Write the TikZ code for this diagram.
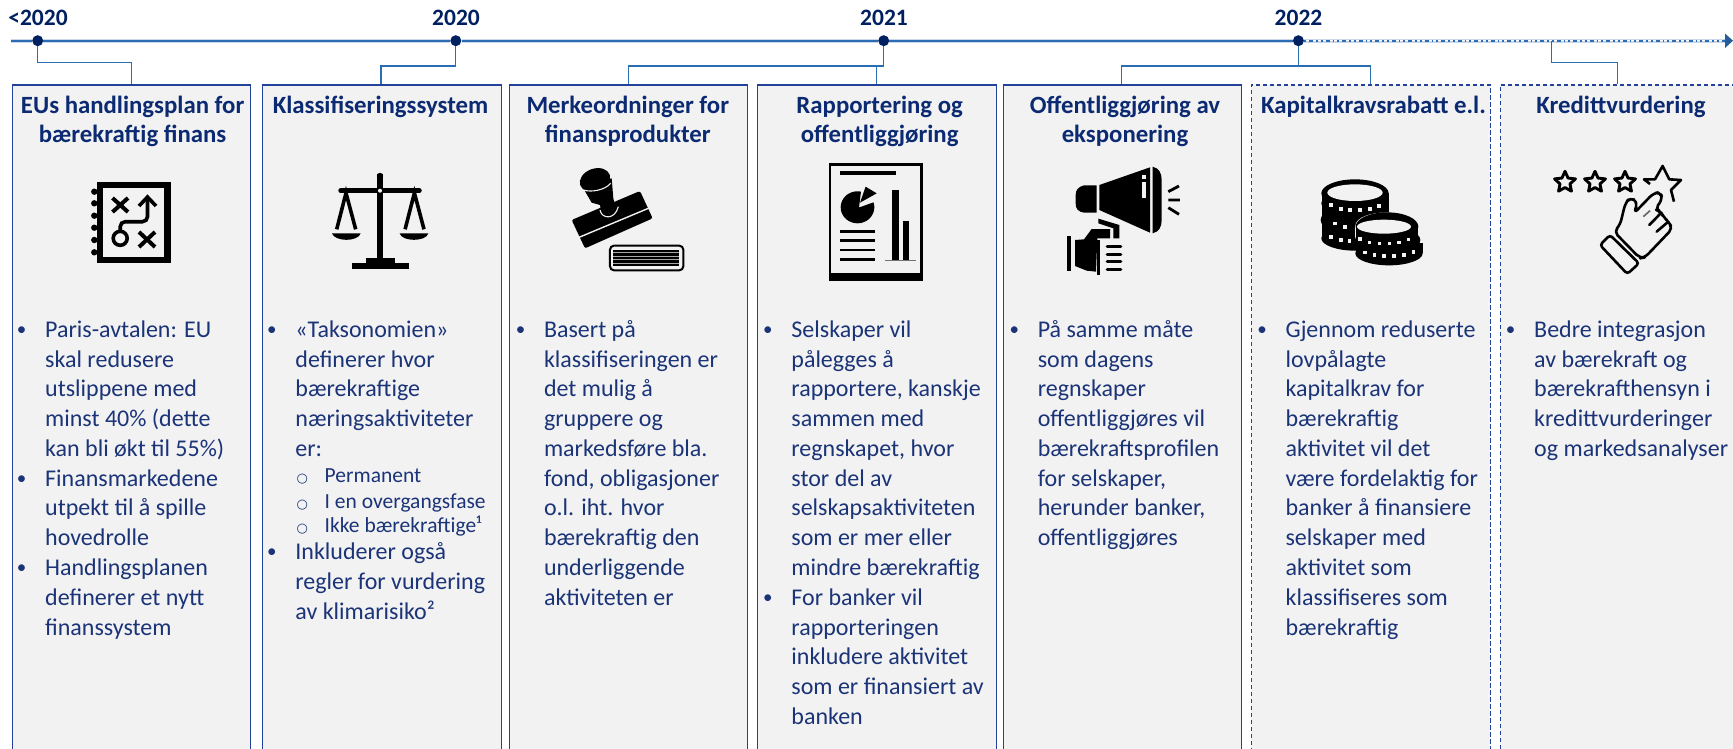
\documentclass[tikz,border=0pt]{standalone}
\usepackage{fontspec}
\setmainfont{Carlito}
\newfontfamily\symf{DejaVu Sans}
\usetikzlibrary{arrows.meta,shapes.geometric}
\definecolor{navy}{HTML}{0B2A72}
\definecolor{bodyc}{HTML}{1B3478}
\definecolor{dotc}{HTML}{002060}
\definecolor{linec}{HTML}{2A6DB5}
\definecolor{halo}{HTML}{CBD8EC}
\definecolor{edge}{HTML}{23429A}
\definecolor{panel}{HTML}{F2F2F2}
\newcommand\bodyfs{\fontsize{24}{29.77}\selectfont}
\newcommand\titlefs{\fontsize{24.8}{29}\selectfont\bfseries}
\newcommand\subfs{\fontsize{21.5}{25}\selectfont}
\newcommand\bu{\leavevmode\llap{\makebox[0pt][c]{\raisebox{2pt}{\fontsize{19}{19}\selectfont •}}\hspace{23.5pt}}}
\newcommand\su[1]{\leavevmode\hspace{29.3pt}\llap{\makebox[0pt][c]{\fontsize{13}{13}\symf ○}\hspace{22.3pt}}{\subfs #1}}
\newcommand\bodyblock[1]{\vtop{\hsize=300pt\parindent=0pt\lineskiplimit=-100pt\raggedright\bodyfs #1}}
\newcommand\titleblock[1]{\vtop{\hsize=260pt\parindent=0pt\lineskiplimit=-100pt\centering\titlefs #1}}
\tikzset{
  panelbox/.style={draw=edge,fill=panel,line width=1.3pt,rectangle,inner sep=0pt,anchor=north west,minimum height=700pt},
  planbox/.style={panelbox,dash pattern=on 4.5pt off 2.5pt},
  yeardot/.style={circle,fill=dotc,inner sep=0pt,minimum size=11pt},
  yearlabel/.style={anchor=base,inner sep=0pt,text=dotc,font=\fontsize{23.5}{28}\selectfont\bfseries},
  titletext/.style={anchor=base,inner sep=0pt,text=navy},
  bodytext/.style={anchor=base west,inner sep=0pt,text=bodyc},
  conn/.style={draw=linec,line width=1.2pt},
  inkline/.style={draw=black,line cap=butt},
  star5/.style={star,star points=5,star point ratio=2.1,draw=black,line width=2.9pt,minimum size=22pt,inner sep=0pt,line join=round}
}
\begin{document}
\begin{tikzpicture}[x=1pt,y=-1pt]
\path[clip] (0,0) rectangle (1733,748);
\fill[white] (0,0) rectangle (1733,748);

% panels
\node[panelbox,minimum width=238pt] (b1) at (11.5,84.3) {};
\node[panelbox,minimum width=239pt] (b2) at (261.6,84.3) {};
\node[panelbox,minimum width=238pt] (b3) at (509,84.3) {};
\node[panelbox,minimum width=239pt] (b4) at (756.8,84.3) {};
\node[panelbox,minimum width=238pt] (b5) at (1002.9,84.3) {};
\node[planbox,minimum width=239pt] (b6) at (1250.7,84.3) {};
\node[planbox,minimum width=300pt] (b7) at (1499.7,84.3) {};

% timeline
\node[yeardot] (d1) at (37.7,40.7) {};
\node[yeardot] (d2) at (455.8,40.7) {};
\node[yeardot] (d3) at (883.7,40.7) {};
\node[yeardot] (d4) at (1298.4,40.7) {};
\coordinate (tls) at (11,40.7);
\coordinate (tlm) at (1726,40.7);
\coordinate (tle) at (1733,40.7);
\coordinate (t5) at (1551.8,40.7);
\draw[halo,line width=3.6pt] (tls) -- (d1) -- (d2) -- (d3) -- (d4) -- (tlm);
\draw[linec,line width=1.6pt] (tls) -- (d1) -- (d2) -- (d3) -- (d4);
\draw[white,line width=1pt] (d4) -- (tlm);
\draw[linec,line width=1.6pt,dash pattern=on 2pt off 3pt on 4pt off 3pt on 1.5pt off 3pt] (d4) -- (tlm);
\draw[draw=none,fill=linec!85!black] (1725,33.5) -- (tle) -- (1725,48) -- cycle;

\node[yearlabel] (y1) at (38,25) {<2020};
\node[yearlabel] (y2) at (456,25) {2020};
\node[yearlabel] (y3) at (884,25) {2021};
\node[yearlabel] (y4) at (1298.5,25) {2022};

% connectors
\coordinate (e1) at (131.3,62.3);
\coordinate (e2) at (381,66);
\coordinate (e3a) at (628.5,66);
\coordinate (e3b) at (876.3,66);
\coordinate (e4a) at (1121.6,66);
\coordinate (e4b) at (1370.2,66);
\coordinate (e5) at (1617.7,62.3);
\draw[conn] (d1) |- (e1) -- (e1|-b1.north);
\draw[conn] (d2) |- (e2) -- (e2|-b2.north);
\draw[conn] (d3) |- (e3a) -- (e3a|-b3.north);
\draw[conn] (e3b) -- (e3b|-b4.north);
\draw[conn] (d4) |- (e4a) -- (e4a|-b5.north);
\draw[conn] (d4|-e4a) -- (e4b) -- (e4b|-b6.north);
\draw[conn] (t5) |- (e5) -- (e5|-b7.north);

% titles
\node[titletext] (t1) at (132.6,113.3) {\titleblock{EUs handlingsplan for\\bærekraftig finans}};
\node[titletext] (t2) at (380.5,113.3) {\titleblock{Klassifiseringssystem}};
\node[titletext] (t3) at (627.8,113.3) {\titleblock{Merkeordninger for\\finansprodukter}};
\node[titletext] (t4) at (879.7,113.3) {\titleblock{Rapportering og\\offentliggjøring}};
\node[titletext] (t5t) at (1125,113.3) {\titleblock{Offentliggjøring av\\eksponering}};
\node[titletext] (t6) at (1373.5,113.3) {\titleblock{Kapitalkravsrabatt e.l.}};
\node[titletext] (t7) at (1621,113.3) {\titleblock{Kredittvurdering}};

% body text
\node[bodytext] (c1) at (45,337.3) {\bodyblock{\bu Paris-avtalen: EU\\skal redusere\\utslippene med\\minst 40\% (dette\\kan bli økt til 55\%)\\\bu Finansmarkedene\\utpekt til å spille\\hovedrolle\\\bu Handlingsplanen\\definerer et nytt\\finanssystem}};
\node[bodytext] (c2) at (295.2,337.3) {\bodyblock{\bu «Taksonomien»\\definerer hvor\\bærekraftige\\næringsaktiviteter\\er:\\[-3.9pt]\su{Permanent}\\[-4pt]\su{I en overgangsfase}\\[-5.5pt]\su{Ikke bærekraftige¹}\\[-2.1pt]\bu Inkluderer også\\regler for vurdering\\av klimarisiko²}};
\node[bodytext] (c3) at (543.8,337.3) {\bodyblock{\bu Basert på\\klassifiseringen er\\det mulig å\\gruppere og\\markedsføre bla.\\fond, obligasjoner\\o.l. iht. hvor\\bærekraftig den\\underliggende\\aktiviteten er}};
\node[bodytext] (c4) at (791.2,337.3) {\bodyblock{\bu Selskaper vil\\pålegges å\\rapportere, kanskje\\sammen med\\regnskapet, hvor\\stor del av\\selskapsaktiviteten\\som er mer eller\\mindre bærekraftig\\\bu For banker vil\\rapporteringen\\inkludere aktivitet\\som er finansiert av\\banken}};
\node[bodytext] (c5) at (1037.6,337.3) {\bodyblock{\bu På samme måte\\som dagens\\regnskaper\\offentliggjøres vil\\bærekraftsprofilen\\for selskaper,\\herunder banker,\\offentliggjøres}};
\node[bodytext] (c6) at (1285.4,337.3) {\bodyblock{\bu Gjennom reduserte\\lovpålagte\\kapitalkrav for\\bærekraftig\\aktivitet vil det\\være fordelaktig for\\banker å finansiere\\selskaper med\\aktivitet som\\klassifiseres som\\bærekraftig}};
\node[bodytext] (c7) at (1534,337.3) {\bodyblock{\bu Bedre integrasjon\\av bærekraft og\\bærekrafthensyn i\\kredittvurderinger\\og markedsanalyser}};

% icon 1: notebook
\fill[black] (97,181.7) rectangle (171,262.7);
\fill[panel] (102.8,187.7) rectangle (163.9,256.7);
\foreach \yy in {191.7,203.3,215.7,227.7,240,252.3} \fill[black] (94.3,\yy) circle (3.2pt);
\draw[inkline,line width=4pt] (112.5,198) -- (128,212) (112.5,212) -- (128,198);
\draw[inkline,line width=4pt] (139,232) -- (155,247) (139,247) -- (155,232);
\draw[inkline,line width=3.6pt] (120.2,238.3) circle (7pt);
\draw[inkline,line width=3.6pt,rounded corners=5pt] (120.2,231) -- (120.2,221.7) -- (147.5,221.7) -- (147.5,199);
\draw[inkline,line width=3.6pt,line join=miter] (139,206) -- (147.5,197) -- (156,206);

% icon 2: scales
\fill[black] (376.8,174) -- (383.2,174) -- (383.2,262) -- (376.8,262) -- cycle;
\fill[black] (380,176) circle (3.2pt);
\draw[inkline,line width=5.5pt,line cap=round] (341,190.7) -- (419,190.7);
\fill[panel] (380,190.7) circle (2pt);
\fill[black] (365.5,258.3) rectangle (394.7,264);
\fill[black] (351.5,263.3) rectangle (408.8,269.3);
\draw[inkline,line width=3.6pt] (336.7,229.3) -- (346,193) -- (355.7,229.3);
\draw[inkline,line width=3.6pt] (405.1,229.3) -- (414.4,193) -- (424,229.3);
\fill[black] (331.9,233.3) -- (360.7,233.3) .. controls (358,242) and (335,242) .. cycle;
\fill[black] (399.6,233.3) -- (428.4,233.3) .. controls (426,242) and (402,242) .. cycle;

% icon 3: stamp
\begin{scope}[shift={(550,160)},x=0.3333pt,y=-0.3333pt]
\fill[black,rounded corners=2pt] (65,180) -- (270,93) -- (308,175) -- (105,265) -- cycle;
\fill[black] (97,80) -- (125,128) -- (150,135) -- (155,165) .. controls (165,178) and (190,178) .. (200,160) -- (190,115) -- (185,55) -- cycle;
\fill[black,rotate around={20:(135,60)}] (135,60) ellipse (47 and 34);
\draw[panel,line width=1.1pt] (100,90) .. controls (125,98) and (165,90) .. (182,70);
\draw[panel,line width=1.1pt] (150,150) .. controls (155,178) and (195,180) .. (205,140);
\draw[panel,line width=1.4pt] (80,235) -- (300,143);
\draw[black,line width=2pt,rounded corners=4pt] (180,257) rectangle (400,331);
\fill[black] (190,270) rectangle (388,318);
\foreach \yy in {278,289,300,310} \draw[panel!70!black,line width=1pt] (190,\yy) -- (388,\yy);
\end{scope}

% icon 4: report
\draw[black,line width=2.8pt,fill=panel] (830,164.7) rectangle (921.6,279.6);
\fill[black] (828.6,273.3) rectangle (923,281);
\fill[black] (840,171.3) rectangle (896.3,175.3);
\fill[black] (859,207.5) -- plot[domain=78:378,samples=40,smooth] ({857.5+16.8*cos(\x)},{207.3-16*sin(\x)}) -- cycle;
\fill[black] (865.6,186.7) -- (876.7,193.3) -- (860,202.7) -- cycle;
\fill[black] (891.5,190) rectangle (899,260);
\fill[black] (903,221) rectangle (909.3,260);
\fill[black!55] (884.5,260) rectangle (916,261.4);
\foreach \yy in {231.7,240.7,250,259.3} \fill[black] (840,\yy-1.3) rectangle (875,\yy+1.3);

% icon 5: megaphone
\begin{scope}[shift={(1060,160)},x=0.3333pt,y=-0.3333pt]
\fill[black] (118,75) -- (270,22) -- (270,218) -- (118,150) -- cycle;
\fill[black] (278,20) .. controls (298,25) and (305,40) .. (305,60) -- (305,180) .. controls (305,200) and (298,215) .. (278,220) -- cycle;
\fill[black] (110,76) -- (72,76) .. controls (55,80) and (47,90) .. (47,105) -- (47,130) .. controls (47,148) and (55,155) .. (72,158) -- (110,158) -- cycle;
\fill[panel] (245,65) rectangle (257,115);
\fill[panel] (245,45) rectangle (257,58);
\draw[inkline,line width=2.8pt] (325,95) -- (357,78) (325,120) -- (360,120) (325,143) -- (357,163);
\fill[black] (22,228) rectangle (33,332);
\fill[black] (45,240) -- (72,238) -- (95,207) -- (150,207) -- (150,235) -- (112,235) -- (108,335) -- (80,332) -- (45,318) -- cycle;
\fill[black] (115,176) -- (178,195) -- (178,235) -- (160,235) -- (160,205) -- (115,190) -- cycle;
\fill[black] (112,240) rectangle (120,345);
\foreach \yy in {260,283,305,328} \draw[black,line width=3.6pt,line cap=round] (142,\yy) -- (182,\yy);
\end{scope}

% icon 6: coins
\begin{scope}[shift={(1310,190)},x=0.3333pt,y=-0.3333pt]
\fill[black] (36,10) rectangle (238,85);
\fill[black] (135,10) ellipse (101 and 42);
\fill[black] (135,40) ellipse (101 and 36);
\fill[black] (36,90) rectangle (240,150);
\fill[black] (136,90) ellipse (104 and 45);
\fill[black] (136,145) ellipse (102 and 37);
\fill[panel] (135,8) ellipse (83 and 25);
\foreach \xx/\yy in {62/45,92/57,120/60,150/60,180/57,207/47,75/100,105/110,62/140,92/150,118/153}
  \fill[panel] (\xx-5.5,\yy-5.5) rectangle (\xx+5.5,\yy+5.5);
\draw[panel,line width=1pt,fill=black] (137,110) -- (137,150) .. controls (137,170) and (325,170) .. (325,150) -- (325,110) .. controls (325,55) and (137,55) .. (137,110);
\fill[black] (137,110) rectangle (325,150);
\fill[black] (137,160) rectangle (338,190);
\fill[black] (231,110) ellipse (94 and 43);
\fill[black] (233,150) ellipse (98 and 40);
\fill[black] (237,190) ellipse (101 and 36);
\fill[panel] (222,110) ellipse (81 and 21);
\foreach \xx/\yy in {150/147,178/157,208/160,238/160,267/157,295/148,165/187,193/195,222/197,252/197,281/194,310/185}
  \fill[panel] (\xx-5.5,\yy-5.5) rectangle (\xx+5.5,\yy+5.5);
\end{scope}

% icon 7: stars and hand
\node[star5] (s1) at (1565,182.3) {};
\node[star5] (s2) at (1595,182.3) {};
\node[star5] (s3) at (1625,182.3) {};
\begin{scope}[shift={(1540,170)},x=0.3333pt,y=-0.3333pt]
\draw[black,line width=2.6pt,line join=round] (330,42) -- (312,28) -- (345,28) -- (368,-12) -- (388,28) -- (423,30) -- (393,60) -- (402,95);
\draw[black,line width=2.6pt,rounded corners=3pt] (180,225) -- (210,195) -- (297,280) -- (262,312) -- cycle;
\draw[black,line width=2.6pt,line join=round,rounded corners=5pt] (222,185) -- (240,165) -- (256,100) -- (270,82) -- (293,95) -- (282,130) -- (340,70) -- (362,66) -- (367,88) -- (345,118) -- (362,125) -- (370,140) -- (385,155) -- (398,175) -- (315,262) -- (300,265) -- cycle;
\draw[black,line width=2.6pt,line cap=round] (328,165) -- (362,130) (350,185) -- (385,155);
\draw[black!60,line width=1.6pt] (310,140) -- (330,122);
\end{scope}
\end{tikzpicture}
\end{document}
